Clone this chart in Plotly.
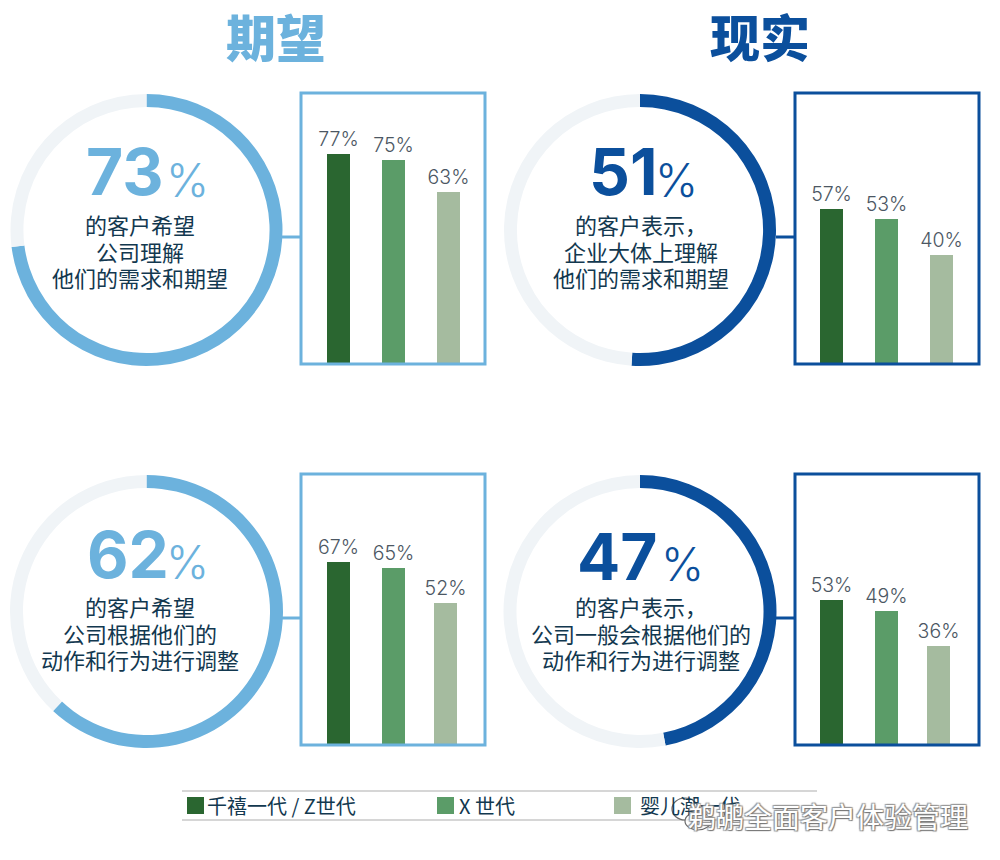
import plotly.graph_objects as go

W, H = 1000, 860
CJK = "Noto Sans CJK SC"
NUM = "Inter"

# ---------- data ----------
overall_values = [73, 51, 62, 47]
overall_labels = ["73", "51", "62", "47"]
generations = ["千禧一代 / Z世代", "X 世代", "婴儿潮一代"]
expect_understand = [77, 75, 63]
reality_understand = [57, 53, 40]
expect_adapt = [67, 65, 52]
reality_adapt = [53, 49, 36]
caption_1 = ["的客户希望", "公司理解", "他们的需求和期望"]
caption_2 = ["的客户表示，", "企业大体上理解", "他们的需求和期望"]
caption_3 = ["的客户希望", "公司根据他们的", "动作和行为进行调整"]
caption_4 = ["的客户表示，", "公司一般会根据他们的", "动作和行为进行调整"]
titles = ["期望", "现实"]
watermark = "鹈鹕全面客户体验管理"

# ---------- style ----------
LIGHT = "#6cb2dd"
DARK = "#0b4f9c"
TRACK = "#f0f4f7"
BAR_COLORS = ["#2a6630", "#5b9c68", "#a5bb9f"]
INK = "#12384f"
LABEL = "#4c5763"


def px(x):
    return x / W


def py(y):
    return 1 - y / H


panels = [
    dict(v=overall_values[0], num=overall_labels[0], bars=expect_understand, cap=caption_1, c=LIGHT,
         donut=(10, 94, 283, 366), box=(301, 93, 485, 364), base=363, x0=338, slots=[0, 1, 2],
         numx=(85, 210), numy=172, capy=250, capx=140, link=237),
    dict(v=overall_values[1], num=overall_labels[1], bars=reality_understand, cap=caption_2, c=DARK,
         donut=(503, 94, 777, 366), box=(795, 93, 979, 364), base=363, x0=831.5, slots=[0, 1, 2],
         numx=(588, 699), numy=172, capy=250, capx=641, link=237),
    dict(v=overall_values[2], num=overall_labels[2], bars=expect_adapt, cap=caption_3, c=LIGHT,
         donut=(10, 475, 283, 748), box=(301, 474, 485, 745), base=744, x0=338, slots=[0, 1, 1.95],
         numx=(86, 210), numy=554, capy=632, capx=140, link=618),
    dict(v=overall_values[3], num=overall_labels[3], bars=reality_adapt, cap=caption_4, c=DARK,
         donut=(503, 475, 777, 748), box=(795, 474, 979, 745), base=744, x0=831.5, slots=[0, 1, 1.95],
         numx=(576, 705), numy=556, capy=632, capx=641, link=618),
]

PX_PER_UNIT = 2.71
SLOT = 55
BAR_W = 23
CAP_PX = 22
CAP_LINE_PX = 26.5

fig = go.Figure()
shapes, notes = [], []
layout_axes = {}

for i, p in enumerate(panels, start=1):
    l, t, r, b = p["donut"]
    fig.add_trace(go.Pie(
        values=[p["v"], 100 - p["v"]], sort=False, direction="clockwise", rotation=0,
        hole=0.905, textinfo="none", hoverinfo="skip", showlegend=False,
        marker=dict(colors=[p["c"], TRACK], line=dict(width=0)),
        domain=dict(x=[px(l), px(r)], y=[py(b), py(t)]),
    ))

    bl, bt, br, bb = p["box"]
    xa, ya = f"x{i}", f"y{i}"
    fig.add_trace(go.Bar(
        x=p["slots"], y=p["bars"], xaxis=xa, yaxis=ya, width=BAR_W / SLOT,
        marker=dict(color=BAR_COLORS, line=dict(width=0)),
        text=[f"{v}%" for v in p["bars"]], textposition="outside", cliponaxis=False,
        constraintext="none",
        textfont=dict(family=NUM, size=19.5, color=LABEL, weight=300),
        hoverinfo="skip", showlegend=False,
    ))
    layout_axes[f"xaxis{i}"] = dict(
        domain=[px(bl), px(br)], anchor=ya, visible=False, fixedrange=True,
        range=[(bl - p["x0"]) / SLOT, (br - p["x0"]) / SLOT],
    )
    layout_axes[f"yaxis{i}"] = dict(
        domain=[py(bb), py(bt)], anchor=xa, visible=False, fixedrange=True,
        range=[-(bb - p["base"]) / PX_PER_UNIT, (p["base"] - bt) / PX_PER_UNIT],
    )

    shapes.append(dict(type="rect", xref="paper", yref="paper", x0=px(bl), x1=px(br), y0=py(bb), y1=py(bt),
                       line=dict(color=p["c"], width=3), fillcolor="rgba(0,0,0,0)"))
    shapes.append(dict(type="line", xref="paper", yref="paper", x0=px(r - 1), x1=px(bl), y0=py(p["link"]), y1=py(p["link"]),
                       line=dict(color=p["c"], width=3)))

    notes.append(dict(x=px(p["numx"][0]), y=py(p["numy"]), text=p["num"], xanchor="left", yanchor="middle",
                      borderpad=0, font=dict(family=NUM, size=64, color=p["c"], weight=700)))
    notes.append(dict(x=px(p["numx"][1]), y=py(p["numy"] + 8), text="%", xanchor="right", yanchor="middle",
                      borderpad=0, font=dict(family=NUM, size=46, color=p["c"], weight=300)))
    # one multi-line text: the base size sets the line pitch, the span sets the glyph size
    cap_text = "<br>".join(f'<span style="font-size:{CAP_PX}px">{line}</span>' for line in p["cap"])
    notes.append(dict(x=px(p["capx"]), y=py(p["capy"]), text=cap_text, xanchor="center", yanchor="middle",
                      align="center", font=dict(family=CJK, size=CAP_LINE_PX / 1.3, color=INK)))

notes.append(dict(x=px(276), y=py(35), text=titles[0], xanchor="center", yanchor="middle",
                  font=dict(family=CJK, size=50, color=LIGHT, weight=900)))
notes.append(dict(x=px(760), y=py(35), text=titles[1], xanchor="center", yanchor="middle",
                  font=dict(family=CJK, size=50, color=DARK, weight=900)))

# legend
for y in (791, 820):
    shapes.append(dict(type="line", xref="paper", yref="paper", x0=px(182), x1=px(817), y0=py(y), y1=py(y),
                       line=dict(color="#c9c9c9", width=1.5)))
legend_swatch_x = [187, 437, 614]
legend_text_x = [205, 457, 638]
for name, sx, tx, c in zip(generations, legend_swatch_x, legend_text_x, BAR_COLORS):
    shapes.append(dict(type="rect", xref="paper", yref="paper", x0=px(sx), x1=px(sx + 17), y0=py(814), y1=py(797),
                       line=dict(width=0), fillcolor=c))
    notes.append(dict(x=px(tx), y=py(805), text=name, xanchor="left", yanchor="middle",
                      font=dict(family=CJK, size=20, color=INK)))

# watermark
for (cx, cy, rx, ry) in [(685, 809, 13, 11), (698, 821, 13, 9)]:
    shapes.append(dict(type="circle", xref="paper", yref="paper", x0=px(cx - rx), x1=px(cx + rx),
                       y0=py(cy + ry), y1=py(cy - ry), line=dict(color="#6a6a6a", width=1.2),
                       fillcolor="rgba(255,255,255,0.85)"))
notes.append(dict(x=px(828), y=py(816), text=watermark, xanchor="center", yanchor="middle",
                  font=dict(family=CJK, size=28, color="#ffffff",
                            shadow="1px 1px 1px #777, -1px -1px 1px #999, 1px -1px 1px #999, -1px 1px 1px #999")))

for n in notes:
    n.update(xref="paper", yref="paper", showarrow=False)

fig.update_layout(
    width=W, height=H, margin=dict(l=0, r=0, t=0, b=0), paper_bgcolor="white", plot_bgcolor="rgba(0,0,0,0)",
    shapes=shapes, annotations=notes, bargap=0, **layout_axes,
)
fig.write_html("out.html", config=dict(displayModeBar=False),
               post_script="document.body.style.margin='0';")
